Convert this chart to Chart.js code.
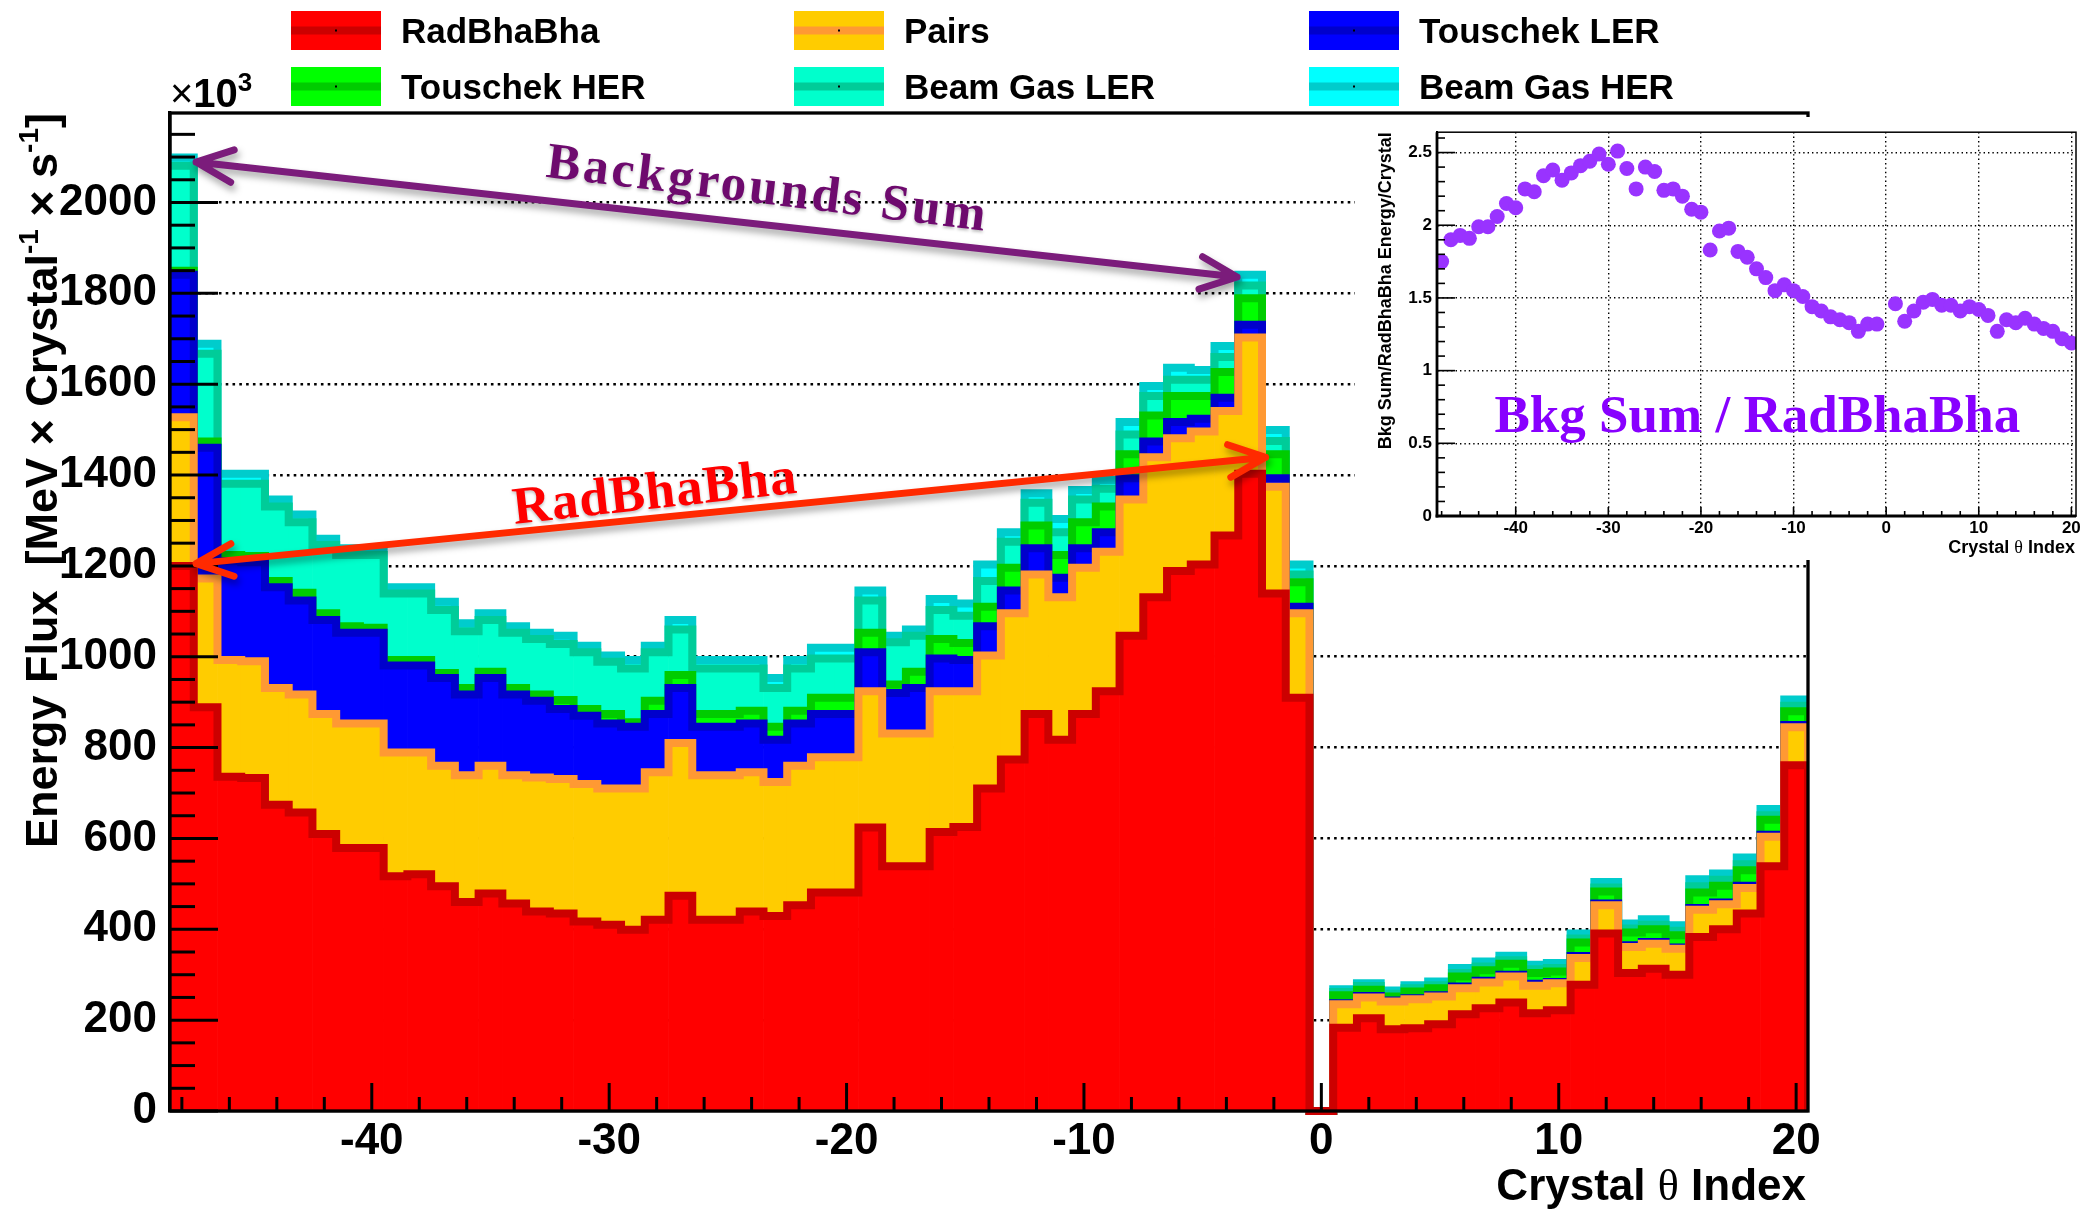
<!DOCTYPE html>
<html>
<head>
<meta charset="utf-8">
<script src="https://cdn.jsdelivr.net/npm/chart.js@4.4.0/dist/chart.umd.min.js"></script>
<style>
  html, body { margin: 0; padding: 0; background: #fff; }
  #wrap { position: relative; width: 2088px; height: 1211px; }
  #main { position: absolute; left: 0; top: 0; }
  #inset { position: absolute; left: 1355px; top: 117px; background: #fff; }
</style>
</head>
<body>
<div id="wrap">
  <canvas id="main" width="2088" height="1211"></canvas>
  <canvas id="inset" width="733" height="443"></canvas>
</div>
<script>
// crystal theta index of each bin
var crystalIndex = [-48, -47, -46, -45, -44, -43, -42, -41, -40, -39,
  -38, -37, -36, -35, -34, -33, -32, -31, -30, -29,
  -28, -27, -26, -25, -24, -23, -22, -21, -20, -19,
  -18, -17, -16, -15, -14, -13, -12, -11, -10, -9,
  -8, -7, -6, -5, -4, -3, -2, -1, 0, 1,
  2, 3, 4, 5, 6, 7, 8, 9, 10, 11,
  12, 13, 14, 15, 16, 17, 18, 19, 20];

// energy flux per source (x10^3 MeV / crystal / s), stacked in this order
var radBhaBha = [1200, 889, 736, 733, 674, 657, 610, 579, 579, 517,
  521, 495, 460, 479, 457, 439, 435, 417, 410, 399,
  421, 474, 421, 421, 439, 429, 453, 481, 481, 624,
  539, 539, 614, 625, 710, 774, 874, 817, 874, 924,
  1046, 1131, 1189, 1203, 1267, 1403, 1139, 910, 0, 183,
  204, 180, 182, 191, 213, 226, 239, 215, 222, 278,
  391, 304, 313, 300, 383, 400, 435, 539, 761];
var pairs = [327, 283, 257, 257, 257, 260, 264, 274, 274, 272,
  268, 265, 279, 281, 282, 295, 296, 303, 300, 311,
  325, 336, 318, 318, 307, 295, 307, 298, 298, 300,
  292, 292, 310, 299, 293, 322, 307, 314, 322, 307,
  300, 308, 292, 293, 274, 300, 235, 186, 0, 52,
  46, 61, 64, 61, 57, 57, 57, 61, 59, 59,
  62, 57, 55, 57, 60, 55, 56, 65, 84];
var touschekLER = [314, 288, 217, 218, 222, 207, 207, 200, 200, 192,
  192, 193, 178, 193, 178, 169, 154, 150, 143, 136,
  128, 121, 107, 107, 107, 93, 93, 95, 95, 86,
  89, 100, 72, 69, 64, 50, 58, 43, 43, 43,
  47, 35, 36, 28, 29, 28, 19, 14, 0, 2,
  3, 2, 2, 3, 4, 4, 4, 4, 3, 4,
  4, 4, 4, 3, 4, 4, 5, 4, 5];
var touschekHER = [9, 14, 14, 14, 14, 17, 15, 14, 11, 12,
  12, 11, 14, 14, 14, 14, 20, 15, 21, 10,
  29, 29, 28, 28, 28, 29, 28, 36, 36, 43,
  19, 36, 43, 37, 43, 50, 50, 50, 57, 57,
  53, 57, 57, 50, 57, 58, 53, 54, 0, 18,
  14, 9, 15, 15, 22, 23, 24, 24, 23, 30,
  26, 28, 28, 27, 34, 37, 34, 33, 30];
var beamGasLER = [231, 193, 157, 159, 164, 155, 150, 157, 160, 146,
  146, 139, 125, 114, 122, 122, 123, 125, 115, 118,
  107, 100, 100, 100, 93, 85, 93, 86, 86, 71,
  93, 79, 64, 60, 57, 57, 50, 50, 50, 39,
  43, 43, 36, 36, 33, 28, 29, 17, 0, 7,
  8, 6, 7, 7, 8, 8, 8, 8, 8, 9,
  9, 9, 10, 10, 14, 13, 13, 10, 12];
var beamGasHER = [18, 22, 22, 22, 15, 17, 14, 15, 12, 14,
  14, 18, 18, 15, 14, 14, 18, 14, 14, 19,
  14, 21, 19, 19, 19, 22, 19, 24, 24, 22,
  14, 14, 24, 27, 36, 21, 21, 29, 21, 19,
  28, 22, 26, 21, 24, 24, 24, 22, 0, 6,
  6, 7, 7, 8, 11, 11, 10, 10, 11, 11,
  12, 11, 12, 12, 15, 14, 15, 14, 14];

// inset: backgrounds sum / RadBhaBha energy per crystal (no value at index 0)
var bkgRatio = [1.75, 1.90, 1.93, 1.91, 1.99, 1.99, 2.06, 2.15, 2.12, 2.25,
  2.23, 2.34, 2.38, 2.31, 2.36, 2.41, 2.44, 2.49, 2.42, 2.51,
  2.39, 2.25, 2.40, 2.37, 2.24, 2.25, 2.20, 2.11, 2.09, 1.83,
  1.96, 1.98, 1.82, 1.78, 1.70, 1.64, 1.55, 1.59, 1.55, 1.51,
  1.44, 1.41, 1.37, 1.35, 1.33, 1.27, 1.32, 1.32, null, 1.46,
  1.34, 1.41, 1.47, 1.49, 1.45, 1.45, 1.41, 1.44, 1.42, 1.38,
  1.27, 1.35, 1.33, 1.36, 1.32, 1.29, 1.27, 1.22, 1.19];

var seriesNames = ['RadBhaBha', 'Pairs', 'Touschek LER', 'Touschek HER', 'Beam Gas LER', 'Beam Gas HER'];
var seriesValues = [radBhaBha, pairs, touschekLER, touschekHER, beamGasLER, beamGasHER];
var yTickLabels = [0, 200, 400, 600, 800, 1000, 1200, 1400, 1600, 1800, 2000];
var xTickLabels = [-40, -30, -20, -10, 0, 10, 20];
var insetYTickLabels = [0, 0.5, 1, 1.5, 2, 2.5];
var insetXTickLabels = [-40, -30, -20, -10, 0, 10, 20];

// styles
var fillColors = ['#ff0000', '#ffcc00', '#0000ff', '#00ff00', '#00ffcc', '#00ffff'];
var lineColors = ['#cc0000', '#ff9933', '#0000cc', '#00cc00', '#00cc99', '#00cccc'];
var SANS = '"Liberation Sans", Arial, Helvetica, sans-serif';
var SERIF = '"Liberation Serif", "Times New Roman", serif';

Chart.defaults.font.family = SANS;
Chart.defaults.color = '#000';

function seg(ctx, x1, y1, x2, y2) {
  ctx.beginPath(); ctx.moveTo(x1, y1); ctx.lineTo(x2, y2); ctx.stroke();
}

// text made of pieces (for superscripts / mixed fonts), baseline at y
function drawPieces(ctx, pieces, x, y, align) {
  var total = 0;
  pieces.forEach(function (p) { ctx.font = p.font; p.w = ctx.measureText(p.text).width; total += p.w; });
  var cx = align === 'right' ? x - total : (align === 'center' ? x - total / 2 : x);
  ctx.textAlign = 'left';
  ctx.textBaseline = 'alphabetic';
  pieces.forEach(function (p) { ctx.font = p.font; ctx.fillText(p.text, cx, y + (p.dy || 0)); cx += p.w; });
}

function arrow2(ctx, x1, y1, x2, y2, color) {
  var ang = Math.atan2(y2 - y1, x2 - x1), head = 40, spread = 0.42;
  ctx.save();
  ctx.strokeStyle = color; ctx.lineWidth = 7; ctx.lineCap = 'round'; ctx.lineJoin = 'round';
  ctx.shadowColor = 'rgba(0,0,0,0.35)'; ctx.shadowBlur = 7; ctx.shadowOffsetX = 2; ctx.shadowOffsetY = 5;
  ctx.beginPath();
  ctx.moveTo(x1, y1); ctx.lineTo(x2, y2);
  [[x1, y1, ang], [x2, y2, ang + Math.PI]].forEach(function (h) {
    ctx.moveTo(h[0] + head * Math.cos(h[2] - spread), h[1] + head * Math.sin(h[2] - spread));
    ctx.lineTo(h[0], h[1]);
    ctx.lineTo(h[0] + head * Math.cos(h[2] + spread), h[1] + head * Math.sin(h[2] + spread));
  });
  ctx.stroke();
  ctx.restore();
}

function slantText(ctx, text, x, y, deg, font, color, spacing) {
  ctx.save();
  ctx.translate(x, y); ctx.rotate(deg * Math.PI / 180);
  ctx.font = font; ctx.fillStyle = color;
  ctx.textAlign = 'center'; ctx.textBaseline = 'alphabetic';
  if (spacing) ctx.letterSpacing = spacing + 'px';
  ctx.shadowColor = 'rgba(0,0,0,0.25)'; ctx.shadowBlur = 3; ctx.shadowOffsetY = 2;
  ctx.fillText(text, 0, 0);
  ctx.restore();
}

// step outline on top of each stacked layer, drawn right after that layer's fill
var histOutline = {
  id: 'histOutline',
  afterDatasetDraw: function (chart, args) {
    var ds = chart.data.datasets[args.index];
    var bars = args.meta.data;
    if (!bars.length) return;
    var ctx = chart.ctx, a = chart.chartArea;
    var y0 = chart.scales.y.getPixelForValue(0);
    ctx.save();
    ctx.beginPath(); ctx.rect(a.left, a.top - 6, a.right - a.left, a.bottom - a.top + 12); ctx.clip();
    ctx.strokeStyle = ds.borderColor; ctx.lineWidth = 8; ctx.lineJoin = 'miter';
    ctx.beginPath();
    bars.forEach(function (b, i) {
      var left = b.x - b.width / 2, right = b.x + b.width / 2;
      if (i === 0) ctx.moveTo(left, b.y); else ctx.lineTo(left, b.y);
      ctx.lineTo(right, b.y);
      if (i === bars.length - 1) ctx.lineTo(right, y0);
    });
    ctx.stroke();
    ctx.restore();
  }
};

var mainOverlay = {
  id: 'mainOverlay',
  afterDatasetsDraw: function (chart) {
    var ctx = chart.ctx, a = chart.chartArea, xs = chart.scales.x, ys = chart.scales.y;
    function xp(k) { return xs.getPixelForValue(k - crystalIndex[0]); }
    ctx.save();
    ctx.strokeStyle = '#000'; ctx.lineWidth = 3;
    for (var v = 0; v < ys.max; v += 50) {
      var py = ys.getPixelForValue(v);
      seg(ctx, a.left, py, a.left + (yTickLabels.indexOf(v) >= 0 ? 48 : 25), py);
    }
    crystalIndex.forEach(function (k) {
      if (k % 2 !== 0) return;
      var px = xp(k);
      seg(ctx, px, a.bottom, px, a.bottom - (xTickLabels.indexOf(k) >= 0 ? 28 : 14));
    });
    ctx.lineWidth = 3.3;
    ctx.strokeRect(a.left, a.top, a.right - a.left, a.bottom - a.top);
    ctx.restore();

    // annotations
    arrow2(ctx, xp(-47.4), ys.getPixelForValue(2089), xp(-3.55), ys.getPixelForValue(1836), '#7b1c7b');
    arrow2(ctx, xp(-47.4), ys.getPixelForValue(1205), xp(-2.35), ys.getPixelForValue(1439), '#ff2a00');
    slantText(ctx, 'Backgrounds Sum', xp(-23.4), ys.getPixelForValue(1997), 7,
      'bold 51px ' + SERIF, '#6e0a6e', 3);
    slantText(ctx, 'RadBhaBha', xp(-28.0), ys.getPixelForValue(1327), -6.3,
      'bold 53px ' + SERIF, '#ff0000', 1);
  },
  afterDraw: function (chart) {
    var ctx = chart.ctx, a = chart.chartArea;
    ctx.save();
    ctx.fillStyle = '#000';
    // legend, 3 columns x 2 rows
    var colX = [291, 794, 1309], rowY = [11, 67];
    chart.data.datasets.forEach(function (ds, i) {
      var bx = colX[i % 3], by = rowY[Math.floor(i / 3)];
      ctx.fillStyle = ds.backgroundColor; ctx.fillRect(bx, by, 90, 39);
      ctx.fillStyle = ds.borderColor; ctx.fillRect(bx, by + 15.5, 90, 8);
      ctx.fillStyle = '#000'; ctx.fillRect(bx + 44, by + 18.5, 2, 2);
      ctx.font = 'bold 35px ' + SANS; ctx.textAlign = 'left'; ctx.textBaseline = 'alphabetic';
      ctx.fillText(ds.label, bx + 110, by + 32.3);
    });
    // x10^3
    drawPieces(ctx, [
      { text: '\u00d7', font: '40px ' + SANS },
      { text: '10', font: 'bold 40px ' + SANS },
      { text: '3', font: 'bold 26px ' + SANS, dy: -16 }
    ], a.left, 107, 'left');
    // x title
    drawPieces(ctx, [
      { text: 'Crystal ', font: 'bold 44px ' + SANS },
      { text: '\u03b8', font: '44px ' + SERIF },
      { text: ' Index', font: 'bold 44px ' + SANS }
    ], a.right - 2, 1200, 'right');
    // y title
    ctx.translate(57, a.top);
    ctx.rotate(-Math.PI / 2);
    var B = 'bold 45px ' + SANS, S = 'bold 28px ' + SANS;
    drawPieces(ctx, [
      { text: 'Energy Flux  [MeV \u00d7 Crystal', font: B },
      { text: '-1', font: S, dy: -19 },
      { text: ' \u00d7 s', font: B },
      { text: '-1', font: S, dy: -19 },
      { text: ']', font: B }
    ], 0, 0, 'right');
    ctx.restore();
  }
};

new Chart(document.getElementById('main'), {
  type: 'bar',
  data: {
    labels: crystalIndex,
    datasets: seriesValues.map(function (vals, i) {
      return {
        label: seriesNames[i],
        data: vals,
        backgroundColor: fillColors[i],
        borderColor: lineColors[i],
        borderWidth: 0,
        barPercentage: 1,
        categoryPercentage: 1
      };
    })
  },
  options: {
    responsive: false,
    animation: false,
    devicePixelRatio: 1,
    layout: { padding: { left: 0, top: 113, right: 280, bottom: 0 } },
    plugins: { legend: { display: false }, tooltip: { enabled: false } },
    scales: {
      x: {
        stacked: true,
        offset: true,
        afterFit: function (s) { s.height = 100; },
        grid: {
          offset: false, drawTicks: false, color: '#000',
          lineWidth: function (c) { return xTickLabels.indexOf(crystalIndex[c.index]) >= 0 ? 2.6 : 0; }
        },
        border: { color: '#000', width: 3.3, dash: [2.6, 4.2] },
        ticks: {
          autoSkip: false, maxRotation: 0, minRotation: 0, padding: 4,
          font: { size: 44, weight: 'bold' }, color: '#000',
          callback: function (v, i) {
            var k = crystalIndex[i];
            return xTickLabels.indexOf(k) >= 0 ? String(k) : null;
          }
        }
      },
      y: {
        stacked: true,
        min: 0, max: 2197,
        afterBuildTicks: function (s) {
          s.ticks = yTickLabels.map(function (v) { return { value: v }; });
        },
        afterFit: function (s) { s.width = 170; },
        grid: {
          drawTicks: false, color: '#000',
          lineWidth: function (c) { return c.tick && c.tick.value > 0 ? 2.6 : 0; }
        },
        border: { color: '#000', width: 3.3, dash: [2.6, 4.2] },
        ticks: {
          autoSkip: false, padding: 13,
          font: { size: 44, weight: 'bold' }, color: '#000',
          callback: function (v) { return String(v); }
        }
      }
    }
  },
  plugins: [histOutline, mainOverlay]
});

// ---------- inset ----------
var insetOverlay = {
  id: 'insetOverlay',
  afterDatasetsDraw: function (chart) {
    var ctx = chart.ctx, a = chart.chartArea, xs = chart.scales.x, ys = chart.scales.y;
    ctx.save();
    ctx.strokeStyle = '#000'; ctx.lineWidth = 1.6;
    for (var i = 0; i <= 26; i++) {
      var v = i / 10, py = ys.getPixelForValue(v);
      if (v > ys.max) break;
      seg(ctx, a.left, py, a.left + (i % 5 === 0 ? 18 : 8), py);
    }
    crystalIndex.forEach(function (k) {
      if (k % 2 !== 0) return;
      var px = xs.getPixelForValue(k);
      seg(ctx, px, a.bottom, px, a.bottom - (insetXTickLabels.indexOf(k) >= 0 ? 9 : 5));
    });
    ctx.lineWidth = 1.5;
    ctx.strokeRect(a.left, a.top, a.right - a.left, a.bottom - a.top);
    ctx.lineWidth = 2.8;
    seg(ctx, a.left, a.top, a.left, a.bottom + 1.4);
    seg(ctx, a.left - 1.4, a.bottom, a.right, a.bottom);
    ctx.restore();

    ctx.save();
    ctx.fillStyle = '#000';
    drawPieces(ctx, [
      { text: 'Crystal ', font: 'bold 18px ' + SANS },
      { text: '\u03b8', font: '18px ' + SERIF },
      { text: ' Index', font: 'bold 18px ' + SANS }
    ], a.right - 1, 436, 'right');
    ctx.translate(36, a.top);
    ctx.rotate(-Math.PI / 2);
    drawPieces(ctx, [{ text: 'Bkg Sum/RadBhaBha Energy/Crystal', font: 'bold 18px ' + SANS }], 0, 0, 'right');
    ctx.restore();

    ctx.save();
    ctx.font = 'bold 53px ' + SERIF;
    ctx.fillStyle = '#8800ff';
    ctx.textAlign = 'center'; ctx.textBaseline = 'alphabetic';
    ctx.fillText('Bkg Sum / RadBhaBha', xs.getPixelForValue(-13.9), ys.getPixelForValue(0.58));
    ctx.restore();
  }
};

var ratioPoints = [];
crystalIndex.forEach(function (k, i) {
  if (bkgRatio[i] !== null) ratioPoints.push({ x: k, y: bkgRatio[i] });
});

new Chart(document.getElementById('inset'), {
  type: 'scatter',
  data: {
    datasets: [{
      data: ratioPoints,
      pointRadius: 7.5,
      pointBackgroundColor: '#9933ff',
      pointBorderWidth: 0
    }]
  },
  options: {
    responsive: false,
    animation: false,
    devicePixelRatio: 1,
    layout: { padding: { left: 0, top: 10, right: 12, bottom: 0 } },
    plugins: { legend: { display: false }, tooltip: { enabled: false } },
    scales: {
      x: {
        type: 'linear', min: -48.5, max: 20.5,
        afterBuildTicks: function (s) {
          s.ticks = insetXTickLabels.map(function (v) { return { value: v }; });
        },
        afterFit: function (s) { s.height = 44; },
        grid: { drawTicks: false, color: '#000', lineWidth: 1.4 },
        border: { color: '#000', width: 2, dash: [1.4, 3] },
        ticks: {
          padding: 2, autoSkip: false, maxRotation: 0,
          font: { size: 17, weight: 'bold' }, color: '#000',
          callback: function (v) { return String(v); }
        }
      },
      y: {
        min: 0, max: 2.64,
        afterBuildTicks: function (s) {
          s.ticks = insetYTickLabels.map(function (v) { return { value: v }; });
        },
        afterFit: function (s) { s.width = 82; },
        grid: {
          drawTicks: false, color: '#000',
          lineWidth: function (c) { return c.tick && c.tick.value > 0 ? 1.4 : 0; }
        },
        border: { color: '#000', width: 2, dash: [1.4, 3] },
        ticks: {
          autoSkip: false, padding: 5,
          font: { size: 17, weight: 'bold' }, color: '#000',
          callback: function (v) { return String(v); }
        }
      }
    }
  },
  plugins: [insetOverlay]
});
</script>
</body>
</html>
